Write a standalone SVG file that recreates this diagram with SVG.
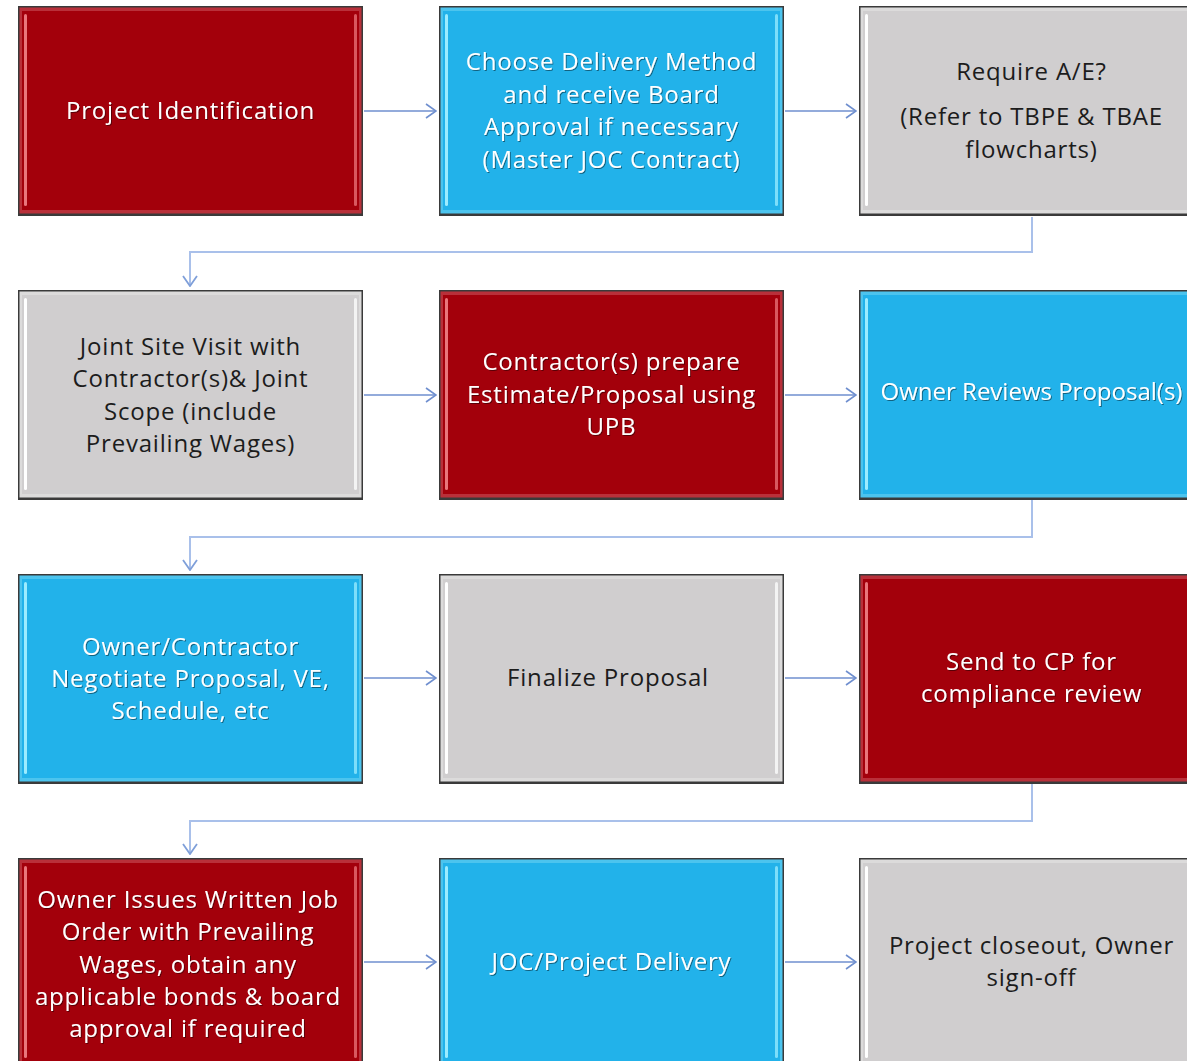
<svg xmlns="http://www.w3.org/2000/svg" width="1187" height="1061" viewBox="0 0 1187 1061">
<defs>
<style>
.frame{fill:#3a3a3a}
.bev{fill:var(--bev)}.body{fill:var(--body)}.hl{fill:var(--hl)}
.red{--bev:#b9303a;--body:#a3000b;--hl:#e9767c}
.blue{--bev:#4cc4ee;--body:#22b2ea;--hl:#9cecff}
.gray{--bev:#dcdbdb;--body:#d0cecf;--hl:#ffffff}
text{font-family:"Open Sans","Noto Sans","Liberation Sans",sans-serif;font-size:24px;letter-spacing:0.8px;text-anchor:middle}
.red text,.blue text{fill:#ffffff;filter:url(#ts)}
.gray text{fill:#1c1c1c}
.conn{fill:none;stroke:#6f8fcf;stroke-width:1.6}
.loop{fill:none;stroke:#a9c0ea;stroke-width:2}
</style>
<filter id="ts" x="-10%" y="-30%" width="120%" height="160%">
<feDropShadow dx="1" dy="1" stdDeviation="0.6" flood-color="#000" flood-opacity="0.45"/>
</filter>
<marker id="ah" markerWidth="12" markerHeight="16" refX="11" refY="8" orient="auto" markerUnits="userSpaceOnUse">
<path d="M1,1 L11,8 L1,15" fill="none" stroke="#6f8fcf" stroke-width="1.6"/>
</marker>
<marker id="ahl" markerWidth="12" markerHeight="16" refX="11" refY="8" orient="auto" markerUnits="userSpaceOnUse">
<path d="M1,1 L11,8 L1,15" fill="none" stroke="#7f9fd9" stroke-width="1.8"/>
</marker>
<g id="boxshape">
<rect class="frame" x="0" y="0" width="345" height="210"/>
<rect class="bev" x="1.5" y="1.5" width="342" height="206"/>
<rect class="body" x="4" y="5" width="337" height="199"/>
<rect class="hl" x="6" y="8" width="3" height="192" rx="1.5"/>
<rect class="hl" x="336" y="8" width="3" height="192" rx="1.5" opacity="0.75"/>
</g>
</defs>
<rect width="1187" height="1061" fill="#ffffff"/>

<g id="connectors">
<line class="conn" x1="364" y1="111" x2="436" y2="111" marker-end="url(#ah)"/>
<line class="conn" x1="785" y1="111" x2="856" y2="111" marker-end="url(#ah)"/>
<polyline class="loop" points="1032,217 1032,252 190,252 190,286" marker-end="url(#ahl)"/>
<line class="conn" x1="364" y1="395" x2="436" y2="395" marker-end="url(#ah)"/>
<line class="conn" x1="785" y1="395" x2="856" y2="395" marker-end="url(#ah)"/>
<polyline class="loop" points="1032,500 1032,537 190,537 190,570" marker-end="url(#ahl)"/>
<line class="conn" x1="364" y1="678" x2="436" y2="678" marker-end="url(#ah)"/>
<line class="conn" x1="785" y1="678" x2="856" y2="678" marker-end="url(#ah)"/>
<polyline class="loop" points="1032,784 1032,821 190,821 190,854" marker-end="url(#ahl)"/>
<line class="conn" x1="364" y1="962" x2="436" y2="962" marker-end="url(#ah)"/>
<line class="conn" x1="785" y1="962" x2="856" y2="962" marker-end="url(#ah)"/>
</g>

<g id="n1" class="red" transform="translate(18,6)"><use href="#boxshape"/>
<text x="172.5" y="113">Project Identification</text></g>

<g id="n2" class="blue" transform="translate(439,6)"><use href="#boxshape"/>
<text x="172.5" y="64">Choose Delivery Method</text>
<text x="172.5" y="97">and receive Board</text>
<text x="172.5" y="129">Approval if necessary</text>
<text x="172.5" y="162">(Master JOC Contract)</text></g>

<g id="n3" class="gray" transform="translate(859,6)"><use href="#boxshape"/>
<text x="172.5" y="74">Require A/E?</text>
<text x="172.5" y="119">(Refer to TBPE &amp; TBAE</text>
<text x="172.5" y="152">flowcharts)</text></g>

<g id="n4" class="gray" transform="translate(18,290)"><use href="#boxshape"/>
<text x="172.5" y="65">Joint Site Visit with</text>
<text x="172.5" y="97">Contractor(s)&amp; Joint</text>
<text x="172.5" y="130">Scope (include</text>
<text x="172.5" y="162">Prevailing Wages)</text></g>

<g id="n5" class="red" transform="translate(439,290)"><use href="#boxshape"/>
<text x="172.5" y="80">Contractor(s) prepare</text>
<text x="172.5" y="113">Estimate/Proposal using</text>
<text x="172.5" y="145">UPB</text></g>

<g id="n6" class="blue" transform="translate(859,290)"><use href="#boxshape"/>
<text x="172.5" y="110" style="letter-spacing:0">Owner Reviews Proposal(s)</text></g>

<g id="n7" class="blue" transform="translate(18,574)"><use href="#boxshape"/>
<text x="172.5" y="81">Owner/Contractor</text>
<text x="172.5" y="113">Negotiate Proposal, VE,</text>
<text x="172.5" y="145">Schedule, etc</text></g>

<g id="n8" class="gray" transform="translate(439,574)"><use href="#boxshape"/>
<text x="169" y="112">Finalize Proposal</text></g>

<g id="n9" class="red" transform="translate(859,574)"><use href="#boxshape"/>
<text x="172.5" y="96">Send to CP for</text>
<text x="172.5" y="128">compliance review</text></g>

<g id="n10" class="red" transform="translate(18,858)"><use href="#boxshape"/>
<text x="170" y="50">Owner Issues Written Job</text>
<text x="170" y="82">Order with Prevailing</text>
<text x="170" y="115">Wages, obtain any</text>
<text x="170" y="147">applicable bonds &amp; board</text>
<text x="170" y="179">approval if required</text></g>

<g id="n11" class="blue" transform="translate(439,858)"><use href="#boxshape"/>
<text x="172.5" y="112">JOC/Project Delivery</text></g>

<g id="n12" class="gray" transform="translate(859,858)"><use href="#boxshape"/>
<text x="172.5" y="96">Project closeout, Owner</text>
<text x="172.5" y="128">sign-off</text></g>
</svg>
